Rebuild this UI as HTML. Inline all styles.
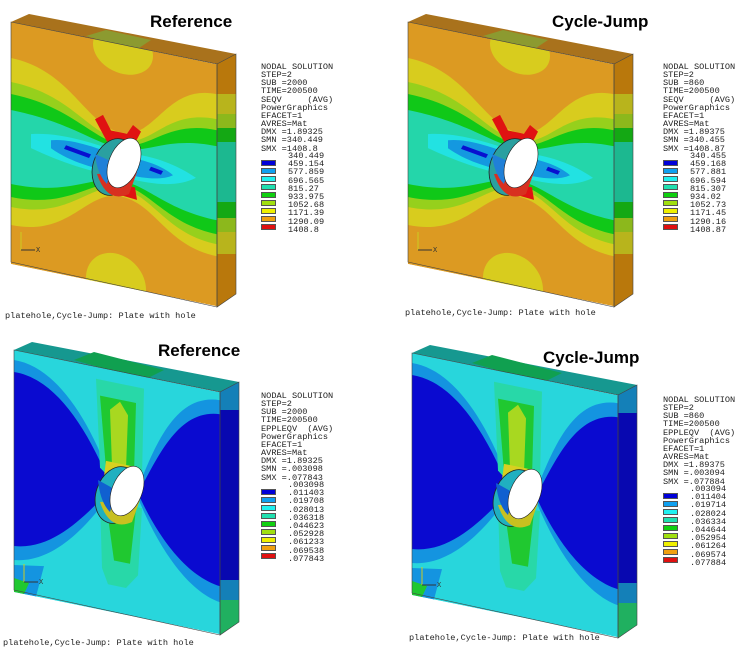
<!DOCTYPE html>
<html><head><meta charset="utf-8"><style>
body{margin:0;background:#fff;width:740px;height:662px;overflow:hidden;position:relative;font-family:"Liberation Sans",sans-serif}
.t{position:absolute;font-weight:bold;font-size:17px;color:#000}
.cap{position:absolute;font-family:"Liberation Mono",monospace;font-size:8.6px;color:#222;white-space:pre}
.leg{position:absolute;font-family:"Liberation Mono",monospace;font-size:8.6px;line-height:8.15px;color:#222;white-space:pre}
.sw{position:absolute;left:0;width:15px;height:6px;border:1px solid #555;box-sizing:border-box}
.vals{position:absolute;left:27px;line-height:8.2px}
</style></head><body>
<svg width="740" height="662" style="position:absolute;left:0;top:0">
<defs>
<clipPath id="fc"><rect x="0" y="0" width="206" height="242"/></clipPath>
<clipPath id="sc"><polygon points="206,42 225,32 225,272 206,285"/></clipPath>
<g id="stress">
  <polygon points="0,0 18,-8 225,32 206,42" fill="#a9721c"/>
  <polygon points="75,14 95,8 140,18 125,28" fill="#8c9a30"/>
  <g clip-path="url(#sc)">
    <rect x="200" y="0" width="30" height="300" fill="#b9780c"/>
    <rect x="200" y="72" width="30" height="20" fill="#b8b41c"/>
    <rect x="200" y="92" width="30" height="14" fill="#8cb81c"/>
    <rect x="200" y="106" width="30" height="14" fill="#14a814"/>
    <rect x="200" y="120" width="30" height="60" fill="#1cb890"/>
    <rect x="200" y="180" width="30" height="16" fill="#14a814"/>
    <rect x="200" y="196" width="30" height="14" fill="#8cb81c"/>
    <rect x="200" y="210" width="30" height="22" fill="#b8b41c"/>
  </g>
  <g transform="matrix(1,0.205,0,1,0,0)">
   <g clip-path="url(#fc)">
    <rect x="0" y="0" width="206" height="242" fill="#dc9a22"/>
    <ellipse cx="112" cy="5" rx="30" ry="24" fill="#d8cc1e"/>
    <ellipse cx="105" cy="240" rx="30" ry="30" fill="#d8cc1e"/>
    <path d="M0,36 C60,36 75,88 110,88 C145,88 155,30 206,30 L206,192 C155,192 145,152 110,152 C75,152 60,203 0,203Z" fill="#d8cc1e"/>
    <path d="M0,60 C60,60 78,96 110,96 C142,96 155,55 206,55 L206,180 C155,180 142,144 110,144 C78,144 60,185 0,185Z" fill="#96d01c"/>
    <path d="M0,72 C60,72 80,100 110,100 C140,100 155,66 206,66 L206,170 C155,170 140,140 110,140 C80,140 60,175 0,175Z" fill="#10c818"/>
    <path d="M0,88 C60,88 82,104 110,104 C138,104 155,82 206,82 L206,156 C155,156 138,136 110,136 C82,136 60,162 0,162Z" fill="#24d6aa"/>
    <path d="M20,108 C50,100 80,104 110,108 C140,104 165,108 185,118 C165,132 140,134 110,132 C80,134 50,130 20,122Z" fill="#22e2e2"/>
    <path d="M40,110 C60,104 85,108 110,112 C130,110 150,112 162,120 C150,128 130,130 110,128 C85,130 60,128 40,118Z" fill="#1498e0"/>
    <path d="M55,112 L80,116 L78,120 L53,116Z" fill="#0810d0"/>
    <path d="M140,116 L152,118 L150,122 L138,120Z" fill="#0810d0"/>
    <path d="M84,80 L92,74 L100,88 L116,88 L122,78 L130,83 L122,100 L96,100Z" fill="#e01212"/>
    <path d="M98,140 L124,140 L126,152 L100,150Z" fill="#e01212"/>
   </g>
  </g>
  <polygon points="0,0 206,42 206,285 0,240" fill="none" stroke="#444" stroke-width="0.6"/>
  <polygon points="206,42 225,32 225,272 206,285" fill="none" stroke="#444" stroke-width="0.6"/>
  <ellipse cx="103" cy="145" rx="21" ry="29" transform="rotate(18 103 145)" fill="#2aa0a0" stroke="#222" stroke-width="0.8"/>
  <path d="M86,152 Q96,182 118,172 L126,150Z" fill="#d83020"/>
  <path d="M84,132 Q86,152 96,162 L102,140Z" fill="#2080d8"/>
  <ellipse cx="113" cy="141" rx="15" ry="26" transform="rotate(22 113 141)" fill="#fff" stroke="#222" stroke-width="0.6"/>
  <line x1="10" y1="228" x2="10" y2="210" stroke="#cc2" stroke-width="1"/>
  <line x1="10" y1="228" x2="24" y2="228" stroke="#333" stroke-width="1"/>
  <text x="25" y="230" font-family="Liberation Mono" font-size="7" fill="#333">X</text>
</g>
<g id="strain">
  <polygon points="0,0 18,-8 225,32 206,42" fill="#169890"/>
  <polygon points="60,10 80,2 150,20 130,30" fill="#10a050"/>
  <g clip-path="url(#sc)">
    <rect x="200" y="0" width="30" height="300" fill="#0808b0"/>
    <rect x="200" y="30" width="30" height="30" fill="#1480b8"/>
    <rect x="200" y="230" width="30" height="20" fill="#1480b8"/>
    <rect x="200" y="250" width="30" height="40" fill="#20b060"/>
  </g>
  <g transform="matrix(1,0.205,0,1,0,0)">
   <g clip-path="url(#fc)">
    <rect x="0" y="0" width="206" height="242" fill="#28d6dc"/>
    <path d="M0,10 C40,8 75,50 100,118 C75,160 40,205 0,210Z" fill="#1494e0"/>
    <path d="M206,8 C160,10 140,70 122,118 C140,160 170,205 206,210Z" fill="#1494e0"/>
    <path d="M0,22 C40,20 72,60 98,118 C72,150 40,192 0,196Z" fill="#0a0ad0"/>
    <path d="M206,22 C165,25 145,75 124,118 C140,150 168,190 206,194Z" fill="#0a0ad0"/>
    <path d="M82,12 L130,12 L128,100 L118,112 L100,112 L86,100Z" fill="#28d8a8"/>
    <path d="M86,28 L122,28 L120,100 L92,100Z" fill="#20c830"/>
    <path d="M96,40 L106,30 L114,42 L112,96 L98,96Z" fill="#a8d820"/>
    <path d="M92,92 L120,92 L124,108 L90,108Z" fill="#d8d020"/>
    <path d="M86,132 L128,132 L124,200 L112,215 L94,215 L88,200Z" fill="#28d8a8"/>
    <path d="M92,134 L122,134 L116,190 L100,190Z" fill="#20c830"/>
    <path d="M0,215 L30,210 L22,242 L0,242Z" fill="#1494e0"/>
    <path d="M0,228 L15,230 L10,242 L0,242Z" fill="#20c830"/>
   </g>
  </g>
  <polygon points="0,0 206,42 206,285 0,240" fill="none" stroke="#444" stroke-width="0.6"/>
  <polygon points="206,42 225,32 225,272 206,285" fill="none" stroke="#444" stroke-width="0.6"/>
  <ellipse cx="103" cy="145" rx="21" ry="29" transform="rotate(18 103 145)" fill="#20b0c0" stroke="#222" stroke-width="0.8"/>
  <path d="M86,152 Q96,182 118,172 L126,150Z" fill="#c8c020"/>
  <path d="M84,130 Q86,152 96,162 L102,140Z" fill="#1060d0"/>
  <ellipse cx="113" cy="141" rx="15" ry="26" transform="rotate(22 113 141)" fill="#fff" stroke="#222" stroke-width="0.6"/>
  <line x1="10" y1="232" x2="10" y2="214" stroke="#cc2" stroke-width="1"/>
  <line x1="10" y1="232" x2="24" y2="232" stroke="#333" stroke-width="1"/>
  <text x="25" y="234" font-family="Liberation Mono" font-size="7" fill="#333">X</text>
</g>
</defs>
<use href="#stress" transform="translate(11,22)"/>
<use href="#stress" transform="translate(408,22)"/>
<use href="#strain" transform="translate(14,350)"/>
<use href="#strain" transform="translate(412,353)"/>
</svg>

<div class="t" style="left:150px;top:12px">Reference</div>
<div class="t" style="left:552px;top:12px">Cycle-Jump</div>
<div class="t" style="left:158px;top:341px">Reference</div>
<div class="t" style="left:543px;top:348px">Cycle-Jump</div>

<div class="cap" style="left:5px;top:311px">platehole,Cycle-Jump: Plate with hole</div>
<div class="cap" style="left:405px;top:308px">platehole,Cycle-Jump: Plate with hole</div>
<div class="cap" style="left:3px;top:638px">platehole,Cycle-Jump: Plate with hole</div>
<div class="cap" style="left:409px;top:633px">platehole,Cycle-Jump: Plate with hole</div>

<div class="leg" style="left:261px;top:63px">NODAL SOLUTION
STEP=2
SUB =2000
TIME=200500
SEQV     (AVG)
PowerGraphics
EFACET=1
AVRES=Mat
DMX =1.89325
SMN =340.449
SMX =1408.8
<div class="vals" style="top:89px">340.449
459.154
577.859
696.565
815.27
933.975
1052.68
1171.39
1290.09
1408.8</div><div class="sw" style="top:97px;background:#0000d8"></div><div class="sw" style="top:105px;background:#10a0f0"></div><div class="sw" style="top:113px;background:#20f0f0"></div><div class="sw" style="top:121px;background:#20e0b0"></div><div class="sw" style="top:129px;background:#10d010"></div><div class="sw" style="top:137px;background:#a0e010"></div><div class="sw" style="top:145px;background:#f0f000"></div><div class="sw" style="top:153px;background:#f0a010"></div><div class="sw" style="top:161px;background:#e01010"></div></div>

<div class="leg" style="left:663px;top:63px">NODAL SOLUTION
STEP=2
SUB =860
TIME=200500
SEQV     (AVG)
PowerGraphics
EFACET=1
AVRES=Mat
DMX =1.89375
SMN =340.455
SMX =1408.87
<div class="vals" style="top:89px">340.455
459.168
577.881
696.594
815.307
934.02
1052.73
1171.45
1290.16
1408.87</div><div class="sw" style="top:97px;background:#0000d8"></div><div class="sw" style="top:105px;background:#10a0f0"></div><div class="sw" style="top:113px;background:#20f0f0"></div><div class="sw" style="top:121px;background:#20e0b0"></div><div class="sw" style="top:129px;background:#10d010"></div><div class="sw" style="top:137px;background:#a0e010"></div><div class="sw" style="top:145px;background:#f0f000"></div><div class="sw" style="top:153px;background:#f0a010"></div><div class="sw" style="top:161px;background:#e01010"></div></div>

<div class="leg" style="left:261px;top:392px">NODAL SOLUTION
STEP=2
SUB =2000
TIME=200500
EPPLEQV  (AVG)
PowerGraphics
EFACET=1
AVRES=Mat
DMX =1.89325
SMN =.003098
SMX =.077843
<div class="vals" style="top:89px">.003098
.011403
.019708
.028013
.036318
.044623
.052928
.061233
.069538
.077843</div><div class="sw" style="top:97px;background:#0000d8"></div><div class="sw" style="top:105px;background:#10a0f0"></div><div class="sw" style="top:113px;background:#20f0f0"></div><div class="sw" style="top:121px;background:#20e0b0"></div><div class="sw" style="top:129px;background:#10d010"></div><div class="sw" style="top:137px;background:#a0e010"></div><div class="sw" style="top:145px;background:#f0f000"></div><div class="sw" style="top:153px;background:#f0a010"></div><div class="sw" style="top:161px;background:#e01010"></div></div>

<div class="leg" style="left:663px;top:396px">NODAL SOLUTION
STEP=2
SUB =860
TIME=200500
EPPLEQV  (AVG)
PowerGraphics
EFACET=1
AVRES=Mat
DMX =1.89375
SMN =.003094
SMX =.077884
<div class="vals" style="top:89px">.003094
.011404
.019714
.028024
.036334
.044644
.052954
.061264
.069574
.077884</div><div class="sw" style="top:97px;background:#0000d8"></div><div class="sw" style="top:105px;background:#10a0f0"></div><div class="sw" style="top:113px;background:#20f0f0"></div><div class="sw" style="top:121px;background:#20e0b0"></div><div class="sw" style="top:129px;background:#10d010"></div><div class="sw" style="top:137px;background:#a0e010"></div><div class="sw" style="top:145px;background:#f0f000"></div><div class="sw" style="top:153px;background:#f0a010"></div><div class="sw" style="top:161px;background:#e01010"></div></div>
</body></html>
